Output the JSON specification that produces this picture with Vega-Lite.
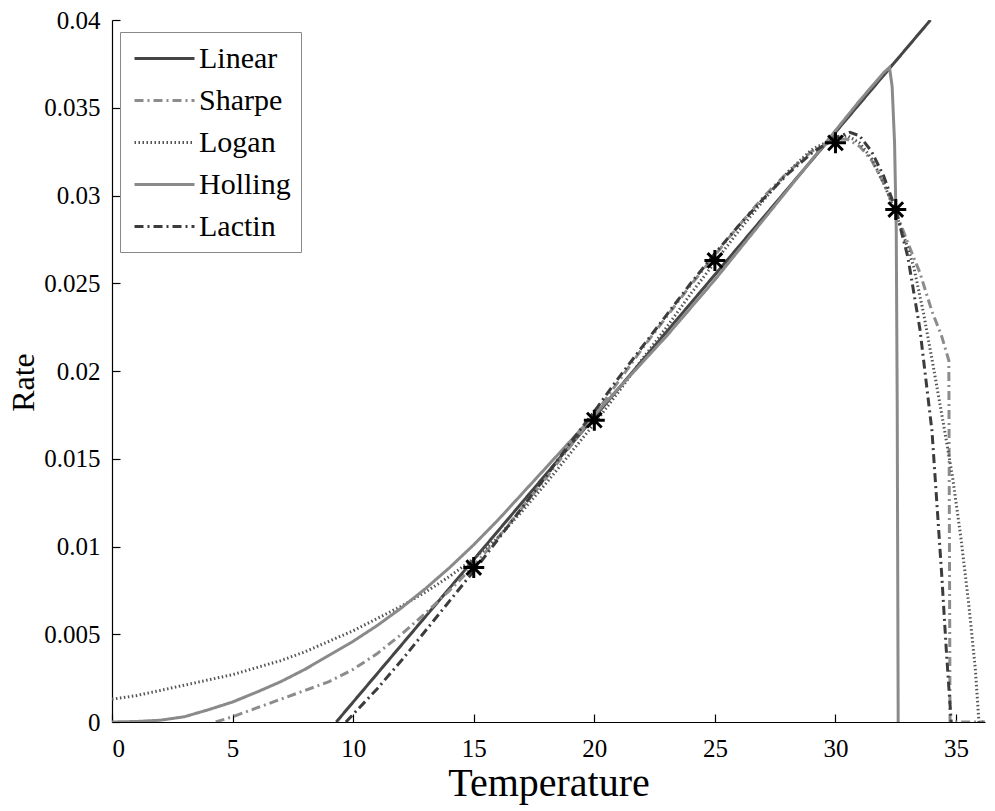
{
  "$schema": "https://vega.github.io/schema/vega-lite/v6.json",
  "autosize": "none",
  "width": 873,
  "height": 702,
  "padding": {"left": 112, "top": 20, "right": 10, "bottom": 89},
  "background": "white",
  "config": {
    "view": {"stroke": null},
    "axis": {
      "grid": false,
      "domainColor": "black",
      "domainWidth": 1.2,
      "tickColor": "black",
      "tickWidth": 1.2,
      "tickSize": -8,
      "labelFont": "Liberation Serif",
      "labelFontWeight": "normal",
      "labelFontSize": 25,
      "labelColor": "black",
      "titleFont": "Liberation Serif",
      "titleFontWeight": "normal",
      "titleColor": "black"
    },
    "legend": {
      "orient": "none",
      "legendX": 8,
      "legendY": 12,
      "symbolType": "M-2,0H2",
      "symbolSize": 900,
      "symbolOffset": 18,
      "labelFont": "Liberation Serif",
      "labelFontWeight": "normal",
      "labelFontSize": 30,
      "labelColor": "black",
      "strokeColor": "#888888",
      "fillColor": "white",
      "padding": 10,
      "rowPadding": 10,
      "labelOffset": 18
    }
  },
  "layer": [
    {
      "data": {"values": [
        {"m":"Linear","T":9.3,"r":0},{"m":"Linear","T":33.94,"r":0.04},
        {"m":"Sharpe","T":4.3,"r":0},{"m":"Sharpe","T":5,"r":0.0003},{"m":"Sharpe","T":6,"r":0.0008},{"m":"Sharpe","T":7,"r":0.0013},{"m":"Sharpe","T":8,"r":0.0018},{"m":"Sharpe","T":9,"r":0.0023},{"m":"Sharpe","T":10,"r":0.003},{"m":"Sharpe","T":11,"r":0.0039},{"m":"Sharpe","T":12,"r":0.005},{"m":"Sharpe","T":13,"r":0.0062},{"m":"Sharpe","T":14,"r":0.0075},{"m":"Sharpe","T":15,"r":0.0089},{"m":"Sharpe","T":16,"r":0.0105},{"m":"Sharpe","T":17,"r":0.0122},{"m":"Sharpe","T":18,"r":0.0139},{"m":"Sharpe","T":19,"r":0.0157},{"m":"Sharpe","T":20,"r":0.0175},{"m":"Sharpe","T":21,"r":0.0194},{"m":"Sharpe","T":22,"r":0.0213},{"m":"Sharpe","T":23,"r":0.0231},{"m":"Sharpe","T":24,"r":0.0249},{"m":"Sharpe","T":25,"r":0.0266},{"m":"Sharpe","T":26,"r":0.0283},{"m":"Sharpe","T":27,"r":0.0299},{"m":"Sharpe","T":28,"r":0.0313},{"m":"Sharpe","T":29,"r":0.0325},{"m":"Sharpe","T":30,"r":0.0332},{"m":"Sharpe","T":30.5,"r":0.0332},{"m":"Sharpe","T":31,"r":0.0328},{"m":"Sharpe","T":31.5,"r":0.032},{"m":"Sharpe","T":32,"r":0.0307},{"m":"Sharpe","T":32.5,"r":0.0291},{"m":"Sharpe","T":33,"r":0.0273},{"m":"Sharpe","T":33.5,"r":0.0256},{"m":"Sharpe","T":34,"r":0.0234},{"m":"Sharpe","T":34.4,"r":0.022},{"m":"Sharpe","T":34.7,"r":0.0206},{"m":"Sharpe","T":34.75,"r":0},{"m":"Sharpe","T":36.2,"r":0},
        {"m":"Logan","T":0,"r":0.0013},{"m":"Logan","T":1,"r":0.0015},{"m":"Logan","T":2,"r":0.0018},{"m":"Logan","T":3,"r":0.0021},{"m":"Logan","T":4,"r":0.0024},{"m":"Logan","T":5,"r":0.0027},{"m":"Logan","T":6,"r":0.0031},{"m":"Logan","T":7,"r":0.0035},{"m":"Logan","T":8,"r":0.004},{"m":"Logan","T":9,"r":0.0046},{"m":"Logan","T":10,"r":0.0052},{"m":"Logan","T":11,"r":0.0059},{"m":"Logan","T":12,"r":0.0066},{"m":"Logan","T":13,"r":0.0074},{"m":"Logan","T":14,"r":0.0083},{"m":"Logan","T":15,"r":0.0093},{"m":"Logan","T":16,"r":0.0105},{"m":"Logan","T":17,"r":0.012},{"m":"Logan","T":18,"r":0.0136},{"m":"Logan","T":19,"r":0.0153},{"m":"Logan","T":20,"r":0.017},{"m":"Logan","T":21,"r":0.0188},{"m":"Logan","T":22,"r":0.0207},{"m":"Logan","T":23,"r":0.0225},{"m":"Logan","T":24,"r":0.0244},{"m":"Logan","T":25,"r":0.0262},{"m":"Logan","T":26,"r":0.028},{"m":"Logan","T":27,"r":0.0297},{"m":"Logan","T":28,"r":0.0313},{"m":"Logan","T":29,"r":0.0326},{"m":"Logan","T":30,"r":0.0333},{"m":"Logan","T":30.5,"r":0.0334},{"m":"Logan","T":31,"r":0.033},{"m":"Logan","T":31.5,"r":0.0321},{"m":"Logan","T":32,"r":0.0307},{"m":"Logan","T":32.5,"r":0.029},{"m":"Logan","T":33,"r":0.027},{"m":"Logan","T":33.25,"r":0.0259},{"m":"Logan","T":33.65,"r":0.0233},{"m":"Logan","T":34.05,"r":0.0203},{"m":"Logan","T":34.45,"r":0.0172},{"m":"Logan","T":34.85,"r":0.014},{"m":"Logan","T":35.2,"r":0.0105},{"m":"Logan","T":35.52,"r":0.0068},{"m":"Logan","T":35.8,"r":0.003},{"m":"Logan","T":35.95,"r":0},{"m":"Logan","T":36.2,"r":0},
        {"m":"Holling","T":0,"r":0},{"m":"Holling","T":1,"r":0.00003},{"m":"Holling","T":2,"r":0.0001},{"m":"Holling","T":3,"r":0.0003},{"m":"Holling","T":4,"r":0.0007},{"m":"Holling","T":5,"r":0.00114},{"m":"Holling","T":6,"r":0.0017},{"m":"Holling","T":7,"r":0.0023},{"m":"Holling","T":8,"r":0.003},{"m":"Holling","T":9,"r":0.0038},{"m":"Holling","T":10,"r":0.0046},{"m":"Holling","T":11,"r":0.0055},{"m":"Holling","T":12,"r":0.0065},{"m":"Holling","T":13,"r":0.0076},{"m":"Holling","T":14,"r":0.0088},{"m":"Holling","T":15,"r":0.0101},{"m":"Holling","T":16,"r":0.0115},{"m":"Holling","T":17,"r":0.013},{"m":"Holling","T":18,"r":0.0145},{"m":"Holling","T":19,"r":0.016},{"m":"Holling","T":20,"r":0.0175},{"m":"Holling","T":21,"r":0.019},{"m":"Holling","T":22,"r":0.0205},{"m":"Holling","T":23,"r":0.022},{"m":"Holling","T":24,"r":0.0236},{"m":"Holling","T":25,"r":0.0252},{"m":"Holling","T":26,"r":0.0269},{"m":"Holling","T":27,"r":0.0286},{"m":"Holling","T":28,"r":0.0303},{"m":"Holling","T":29,"r":0.032},{"m":"Holling","T":30,"r":0.0337},{"m":"Holling","T":31,"r":0.0354},{"m":"Holling","T":32,"r":0.037},{"m":"Holling","T":32.24,"r":0.0373},{"m":"Holling","T":32.35,"r":0.0362},{"m":"Holling","T":32.45,"r":0.033},{"m":"Holling","T":32.52,"r":0.028},{"m":"Holling","T":32.56,"r":0.018},{"m":"Holling","T":32.6,"r":0},
        {"m":"Lactin","T":9.7,"r":0},{"m":"Lactin","T":11,"r":0.0019},{"m":"Lactin","T":12,"r":0.0035},{"m":"Lactin","T":13,"r":0.0052},{"m":"Lactin","T":14,"r":0.0069},{"m":"Lactin","T":15,"r":0.0086},{"m":"Lactin","T":16,"r":0.0104},{"m":"Lactin","T":17,"r":0.0122},{"m":"Lactin","T":18,"r":0.014},{"m":"Lactin","T":19,"r":0.0159},{"m":"Lactin","T":20,"r":0.0177},{"m":"Lactin","T":21,"r":0.0196},{"m":"Lactin","T":22,"r":0.0214},{"m":"Lactin","T":23,"r":0.0232},{"m":"Lactin","T":24,"r":0.025},{"m":"Lactin","T":25,"r":0.0267},{"m":"Lactin","T":26,"r":0.0283},{"m":"Lactin","T":27,"r":0.0298},{"m":"Lactin","T":28,"r":0.0312},{"m":"Lactin","T":29,"r":0.0324},{"m":"Lactin","T":30,"r":0.0333},{"m":"Lactin","T":30.6,"r":0.0336},{"m":"Lactin","T":31,"r":0.0334},{"m":"Lactin","T":31.5,"r":0.0325},{"m":"Lactin","T":32,"r":0.0311},{"m":"Lactin","T":32.5,"r":0.0292},{"m":"Lactin","T":33,"r":0.0265},{"m":"Lactin","T":33.5,"r":0.0224},{"m":"Lactin","T":34,"r":0.0166},{"m":"Lactin","T":34.4,"r":0.0085},{"m":"Lactin","T":34.6,"r":0.004},{"m":"Lactin","T":34.8,"r":0}
      ]},
      "mark": {"type": "line", "clip": true},
      "encoding": {
        "x": {"field": "T", "type": "quantitative", "title": "Temperature",
              "scale": {"domain": [0, 36.2], "nice": false, "zero": false},
              "axis": {"values": [0,5,10,15,20,25,30,35], "labelPadding": 22, "titlePadding": 2, "titleFontSize": 40, "labelFont": "Liberation Serif", "labelFontWeight": "normal"}},
        "y": {"field": "r", "type": "quantitative", "title": "Rate",
              "scale": {"domain": [0, 0.04], "nice": false},
              "axis": {"values": [0,0.005,0.01,0.015,0.02,0.025,0.03,0.035,0.04], "format": "~g", "labelPadding": 20, "titlePadding": 3, "titleFontSize": 32, "titleY": 362, "labelFont": "Liberation Serif", "labelFontWeight": "normal"}},
        "color": {"field": "m", "type": "nominal", "title": null,
                  "legend": {"labelFont": "Liberation Serif", "labelFontWeight": "normal"},
                  "scale": {"domain": ["Linear","Sharpe","Logan","Holling","Lactin"], "range": ["#454545","#8c8c8c","#555555","#8a8a8a","#3c3c3c"]}},
        "strokeDash": {"field": "m", "type": "nominal", "title": null,
                  "scale": {"domain": ["Linear","Sharpe","Logan","Holling","Lactin"], "range": [[1,0],[9,4,2,4],[1.5,2.5],[1,0],[9,4,2,4]]}},
        "strokeWidth": {"field": "m", "type": "nominal", "title": null,
                  "scale": {"domain": ["Linear","Sharpe","Logan","Holling","Lactin"], "range": [3,3,2,3.5,3]}}
      }
    },
    {
      "data": {"values": [
        {"T":15,"r":0.0088},{"T":20,"r":0.0172},{"T":25,"r":0.0263},{"T":30,"r":0.033},{"T":32.5,"r":0.0292}
      ]},
      "mark": {"type": "point", "shape": "M-1,0L1,0M0,-1L0,1M-0.7,-0.7L0.7,0.7M-0.7,0.7L0.7,-0.7", "size": 440, "filled": false, "stroke": "black", "strokeWidth": 3, "opacity": 1},
      "encoding": {
        "x": {"field": "T", "type": "quantitative"},
        "y": {"field": "r", "type": "quantitative"}
      }
    }
  ]
}
